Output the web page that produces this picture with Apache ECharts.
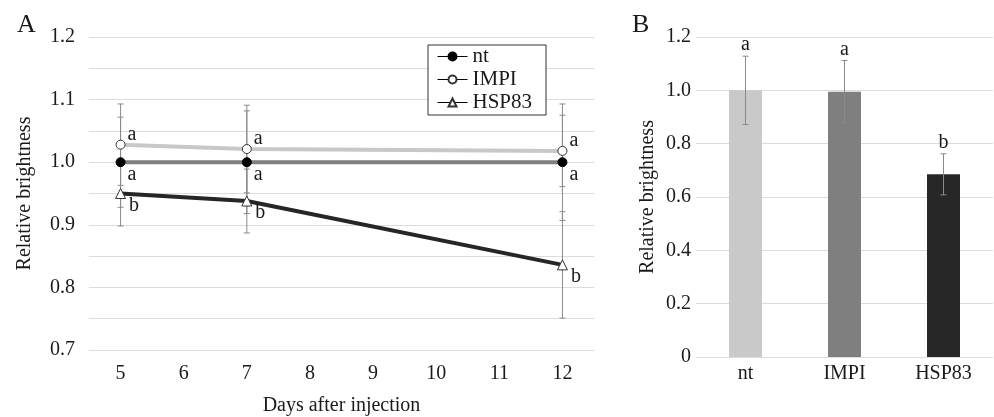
<!DOCTYPE html>
<html>
<head>
<meta charset="utf-8">
<script src="https://cdn.jsdelivr.net/npm/echarts@6/dist/echarts.min.js"></script>
<style>
  html, body { margin: 0; padding: 0; background: #fff; }
  #chart { width: 994px; height: 417px; }
</style>
</head>
<body>
<div id="chart"></div>
<script>
// panel A: relative brightness over days
const days = ['5', '6', '7', '8', '9', '10', '11', '12']
const sampleDays = ['5', '7', '12']
const ntVals = [1.0, 1.0, 1.0]
const impiVals = [1.028, 1.021, 1.018]
const hspVals = [0.950, 0.938, 0.836]
const ntErr = [0.072, 0.082, 0.093]
const impiErr = [0.065, 0.070, 0.057]
const hspErr = [0.052, 0.051, 0.085]
const ntLetters = ['a', 'a', 'a']
const impiLetters = ['a', 'a', 'a']
const hspLetters = ['b', 'b', 'b']

// panel B: bars
const barCats = ['nt', 'IMPI', 'HSP83']
const barVals = [1.0, 0.995, 0.685]
const barErr = [0.128, 0.117, 0.077]
const barLetters = ['a', 'a', 'b']
const barColors = ['#c9c9c9', '#7f7f7f', '#272727']

const FONT = 'Liberation Serif'
const TXT = '#1a1a1a'
const GRIDC = '#dcdcdc'
const ERRC = '#8a8a8a'

function pairs(vals) {
  return vals.map((v, i) => [sampleDays[i], v])
}

function errData(vals, errs) {
  return vals.map((v, i) => [sampleDays[i], v - errs[i], v + errs[i]])
}

function errRender(params, api) {
  var lo = api.coord([api.value(0), api.value(1)])
  var hi = api.coord([api.value(0), api.value(2)])
  var c = 3
  var st = {stroke: ERRC, lineWidth: 1}
  return {
    type: 'group',
    children: [
      {type: 'line', shape: {x1: lo[0], y1: lo[1], x2: hi[0], y2: hi[1]}, style: st},
      {type: 'line', shape: {x1: lo[0] - c, y1: lo[1], x2: lo[0] + c, y2: lo[1]}, style: st},
      {type: 'line', shape: {x1: hi[0] - c, y1: hi[1], x2: hi[0] + c, y2: hi[1]}, style: st}
    ]
  }
}

function barErrRender(params, api) {
  var i = params.dataIndex
  var lo = api.coord([api.value(0), api.value(1)])
  var hi = api.coord([api.value(0), api.value(2)])
  var c = 3
  var st = {stroke: ERRC, lineWidth: 1}
  return {
    type: 'group',
    children: [
      {type: 'line', shape: {x1: lo[0], y1: lo[1], x2: hi[0], y2: hi[1]}, style: st},
      {type: 'line', shape: {x1: lo[0] - c, y1: lo[1], x2: lo[0] + c, y2: lo[1]}, style: st},
      {type: 'line', shape: {x1: hi[0] - c, y1: hi[1], x2: hi[0] + c, y2: hi[1]}, style: st},
      {type: 'text', style: {x: hi[0], y: hi[1] - 1, text: barLetters[i], fill: TXT,
        font: '20px "' + FONT + '"', align: 'center', verticalAlign: 'bottom'}}
    ]
  }
}

function letterLabel(letters, offset) {
  return {
    show: true,
    position: 'right',
    offset: offset,
    fontFamily: FONT,
    fontSize: 20,
    color: TXT,
    formatter: p => letters[p.dataIndex]
  }
}

var option = {
  animation: false,
  backgroundColor: '#fff',
  textStyle: {fontFamily: FONT, color: TXT},
  title: [
    {text: 'A', left: 12, top: 7, textStyle: {fontFamily: FONT, fontSize: 26, fontWeight: 'normal', color: TXT}},
    {text: 'B', left: 627, top: 7, textStyle: {fontFamily: FONT, fontSize: 26, fontWeight: 'normal', color: TXT}}
  ],
  legend: {
    left: 428,
    top: 45,
    orient: 'vertical',
    data: ['nt', 'IMPI', 'HSP83'],
    itemWidth: 30,
    itemHeight: 10,
    itemGap: 2,
    itemTextGap: 8,
    padding: [1, 14, 2, 9],
    borderColor: '#333',
    borderWidth: 1,
    backgroundColor: '#fff',
    lineStyle: {color: '#000', width: 1},
    textStyle: {fontFamily: FONT, fontSize: 21, color: TXT}
  },
  grid: [
    {left: 89, top: 37, width: 505, height: 313, outerBoundsMode: 'none', containLabel: false},
    {left: 696, top: 37, width: 297, height: 320, outerBoundsMode: 'none', containLabel: false}
  ],
  xAxis: [
    {
      gridIndex: 0, type: 'category', data: days, boundaryGap: true,
      name: 'Days after injection', nameLocation: 'middle', nameGap: 46,
      nameTextStyle: {fontFamily: FONT, fontSize: 20, color: TXT},
      axisLine: {show: false}, axisTick: {show: false},
      axisLabel: {fontFamily: FONT, fontSize: 20, color: TXT, margin: 14}
    },
    {
      gridIndex: 1, type: 'category', data: barCats,
      axisLine: {show: false}, axisTick: {show: false},
      axisLabel: {fontFamily: FONT, fontSize: 20, color: TXT, margin: 7}
    }
  ],
  yAxis: [
    {
      gridIndex: 0, type: 'value', min: 0.7, max: 1.2, interval: 0.05,
      name: 'Relative brightness', nameLocation: 'middle', nameGap: 54,
      nameTextStyle: {fontFamily: FONT, fontSize: 20, color: TXT},
      axisLine: {show: false}, axisTick: {show: false},
      splitLine: {lineStyle: {color: GRIDC, width: 1}},
      axisLabel: {
        fontFamily: FONT, fontSize: 20, color: TXT, margin: 14,
        formatter: v => Math.abs(v * 10 - Math.round(v * 10)) < 1e-6 ? v.toFixed(1) : ''
      }
    },
    {
      gridIndex: 1, type: 'value', min: 0, max: 1.2, interval: 0.2,
      name: 'Relative brightness', nameLocation: 'middle', nameGap: 38,
      nameTextStyle: {fontFamily: FONT, fontSize: 20, color: TXT},
      axisLine: {show: false}, axisTick: {show: false},
      splitLine: {lineStyle: {color: GRIDC, width: 1}},
      axisLabel: {
        fontFamily: FONT, fontSize: 20, color: TXT, margin: 5,
        formatter: v => v === 0 ? '0' : v.toFixed(1)
      }
    }
  ],
  series: [
    {type: 'custom', xAxisIndex: 0, yAxisIndex: 0, z: 1, renderItem: errRender, data: errData(ntVals, ntErr)},
    {type: 'custom', xAxisIndex: 0, yAxisIndex: 0, z: 1, renderItem: errRender, data: errData(impiVals, impiErr)},
    {type: 'custom', xAxisIndex: 0, yAxisIndex: 0, z: 1, renderItem: errRender, data: errData(hspVals, hspErr)},
    {
      name: 'IMPI', type: 'line', xAxisIndex: 0, yAxisIndex: 0, z: 3,
      data: pairs(impiVals), symbol: 'circle', symbolSize: 9, showAllSymbol: true,
      lineStyle: {color: '#c8c8c8', width: 4},
      itemStyle: {color: '#fff', borderColor: '#333', borderWidth: 1},
      label: letterLabel(impiLetters, [-3, -10])
    },
    {
      name: 'nt', type: 'line', xAxisIndex: 0, yAxisIndex: 0, z: 4,
      data: pairs(ntVals), symbol: 'circle', symbolSize: 9, showAllSymbol: true,
      lineStyle: {color: '#7f7f7f', width: 4},
      itemStyle: {color: '#000', borderColor: '#000', borderWidth: 1},
      label: letterLabel(ntLetters, [-3, 13])
    },
    {
      name: 'HSP83', type: 'line', xAxisIndex: 0, yAxisIndex: 0, z: 3,
      data: pairs(hspVals), symbol: 'triangle', symbolSize: 10, showAllSymbol: true,
      lineStyle: {color: '#262626', width: 4},
      itemStyle: {color: '#fff', borderColor: '#333', borderWidth: 1},
      label: letterLabel(hspLetters, [-2, 12])
    },
    {
      type: 'bar', xAxisIndex: 1, yAxisIndex: 1, barWidth: 33,
      data: barVals.map((v, i) => ({value: v, itemStyle: {color: barColors[i]}}))
    },
    {
      type: 'custom', xAxisIndex: 1, yAxisIndex: 1, z: 5, renderItem: barErrRender,
      data: barVals.map((v, i) => [i, v - barErr[i], v + barErr[i]])
    }
  ]
}

var chart = echarts.init(document.getElementById('chart'), null, {renderer: 'canvas'})
chart.setOption(option)
</script>
</body>
</html>
